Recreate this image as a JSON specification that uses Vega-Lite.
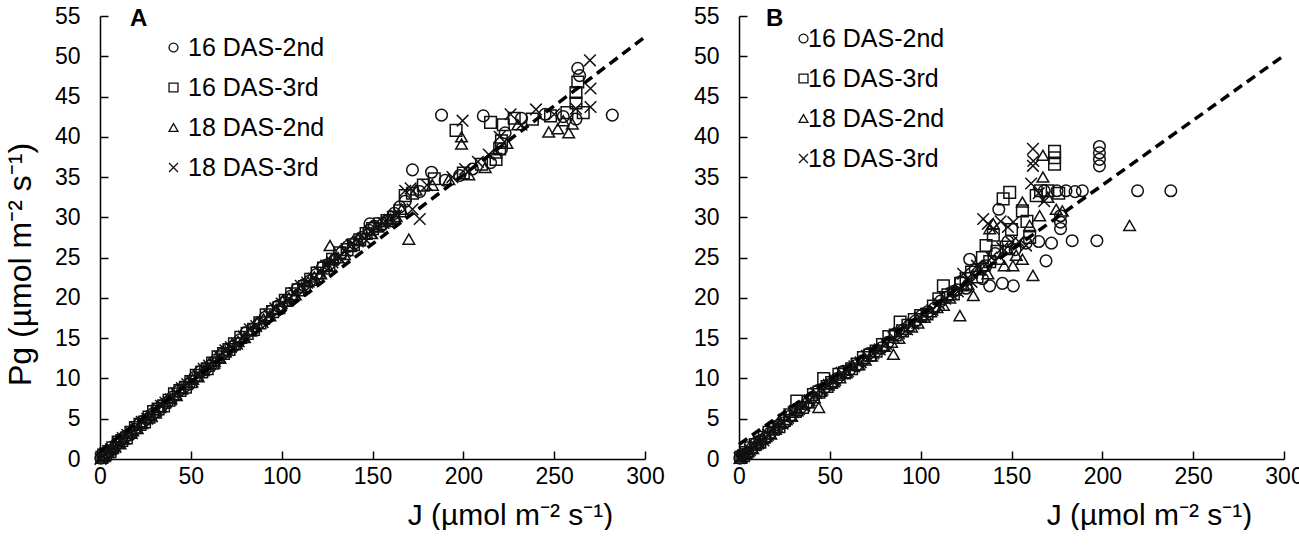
{
  "$schema": "https://vega.github.io/schema/vega-lite/v6.json",
  "background": "white",
  "padding": {"left": 4, "top": 5, "right": 0, "bottom": 0},
  "config": {
    "font": "Liberation Sans",
    "view": {"stroke": null},
    "concat": {"spacing": 28},
    "axis": {
      "grid": false,
      "domainColor": "#000",
      "domainWidth": 1.5,
      "tickColor": "#000",
      "tickWidth": 1.5,
      "tickSize": -8,
      "labelColor": "#000",
      "labelFontSize": 23,
      "labelFlush": false,
      "labelOverlap": false,
      "titleColor": "#000",
      "titleFontWeight": "normal"
    },
    "legend": {
      "labelFontSize": 25,
      "labelColor": "#000",
      "symbolSize": 80,
      "symbolStrokeColor": "#111",
      "symbolStrokeWidth": 1.3,
      "rowPadding": 14,
      "titleFontSize": 24,
      "titleFontWeight": "bold",
      "titleColor": "#000"
    }
  },
  "datasets": {
    "fit": [
      {"p": "A", "J": 0, "Pg": 1.0},
      {"p": "A", "J": 300, "Pg": 52.4},
      {"p": "B", "J": 0, "Pg": 1.8},
      {"p": "B", "J": 300, "Pg": 50.1}
    ],
    "pts": [
      {"p":"A","s":"16 DAS-2nd","J":0.5,"Pg":0.1},{"p":"A","s":"16 DAS-2nd","J":2,"Pg":0.4},{"p":"A","s":"16 DAS-2nd","J":5,"Pg":1.0},{"p":"A","s":"16 DAS-2nd","J":9,"Pg":1.8},{"p":"A","s":"16 DAS-2nd","J":14,"Pg":2.8},{"p":"A","s":"16 DAS-2nd","J":19,"Pg":3.7},{"p":"A","s":"16 DAS-2nd","J":24,"Pg":4.7},{"p":"A","s":"16 DAS-2nd","J":29,"Pg":5.6},{"p":"A","s":"16 DAS-2nd","J":34,"Pg":6.6},{"p":"A","s":"16 DAS-2nd","J":40,"Pg":7.7},{"p":"A","s":"16 DAS-2nd","J":46,"Pg":8.9},{"p":"A","s":"16 DAS-2nd","J":52,"Pg":10.1},{"p":"A","s":"16 DAS-2nd","J":58,"Pg":11.2},{"p":"A","s":"16 DAS-2nd","J":64,"Pg":12.3},{"p":"A","s":"16 DAS-2nd","J":70,"Pg":13.5},{"p":"A","s":"16 DAS-2nd","J":77,"Pg":14.8},{"p":"A","s":"16 DAS-2nd","J":84,"Pg":16.1},{"p":"A","s":"16 DAS-2nd","J":91,"Pg":17.6},{"p":"A","s":"16 DAS-2nd","J":98,"Pg":19.0},{"p":"A","s":"16 DAS-2nd","J":105,"Pg":20.2},{"p":"A","s":"16 DAS-2nd","J":112,"Pg":21.6},{"p":"A","s":"16 DAS-2nd","J":119,"Pg":22.9},{"p":"A","s":"16 DAS-2nd","J":126,"Pg":24.2},{"p":"A","s":"16 DAS-2nd","J":133,"Pg":25.6},{"p":"A","s":"16 DAS-2nd","J":140,"Pg":26.8},{"p":"A","s":"16 DAS-2nd","J":148,"Pg":28.4},{"p":"A","s":"16 DAS-2nd","J":148.6,"Pg":29.2},{"p":"A","s":"16 DAS-2nd","J":155,"Pg":29.0},{"p":"A","s":"16 DAS-2nd","J":162,"Pg":30.5},{"p":"A","s":"16 DAS-2nd","J":168,"Pg":32.0},{"p":"A","s":"16 DAS-2nd","J":172,"Pg":35.9},{"p":"A","s":"16 DAS-2nd","J":176,"Pg":33.2},{"p":"A","s":"16 DAS-2nd","J":182.5,"Pg":35.6},{"p":"A","s":"16 DAS-2nd","J":190,"Pg":34.6},{"p":"A","s":"16 DAS-2nd","J":198,"Pg":35.2},{"p":"A","s":"16 DAS-2nd","J":205,"Pg":36.0},{"p":"A","s":"16 DAS-2nd","J":211,"Pg":42.6},{"p":"A","s":"16 DAS-2nd","J":188,"Pg":42.7},{"p":"A","s":"16 DAS-2nd","J":215,"Pg":36.8},{"p":"A","s":"16 DAS-2nd","J":221,"Pg":38.5},{"p":"A","s":"16 DAS-2nd","J":223,"Pg":40.5},{"p":"A","s":"16 DAS-2nd","J":232,"Pg":42.3},{"p":"A","s":"16 DAS-2nd","J":245,"Pg":42.8},{"p":"A","s":"16 DAS-2nd","J":255,"Pg":42.5},{"p":"A","s":"16 DAS-2nd","J":262,"Pg":42.2},{"p":"A","s":"16 DAS-2nd","J":263,"Pg":48.5},{"p":"A","s":"16 DAS-2nd","J":264,"Pg":47.6},{"p":"A","s":"16 DAS-2nd","J":282,"Pg":42.7},
      {"p":"A","s":"16 DAS-2nd","J":3.5,"Pg":0.8},{"p":"A","s":"16 DAS-2nd","J":7,"Pg":1.2},{"p":"A","s":"16 DAS-2nd","J":11.5,"Pg":2.4},{"p":"A","s":"16 DAS-2nd","J":16.5,"Pg":3.0},{"p":"A","s":"16 DAS-2nd","J":21.5,"Pg":4.3},{"p":"A","s":"16 DAS-2nd","J":26.5,"Pg":5.0},{"p":"A","s":"16 DAS-2nd","J":31.5,"Pg":6.2},{"p":"A","s":"16 DAS-2nd","J":37,"Pg":7.0},{"p":"A","s":"16 DAS-2nd","J":43,"Pg":8.4},{"p":"A","s":"16 DAS-2nd","J":49,"Pg":9.3},{"p":"A","s":"16 DAS-2nd","J":55,"Pg":10.8},{"p":"A","s":"16 DAS-2nd","J":61,"Pg":11.6},{"p":"A","s":"16 DAS-2nd","J":67,"Pg":13.0},{"p":"A","s":"16 DAS-2nd","J":73.5,"Pg":14.0},{"p":"A","s":"16 DAS-2nd","J":80.5,"Pg":15.7},{"p":"A","s":"16 DAS-2nd","J":87.5,"Pg":16.8},{"p":"A","s":"16 DAS-2nd","J":94.5,"Pg":18.4},{"p":"A","s":"16 DAS-2nd","J":101.5,"Pg":19.5},{"p":"A","s":"16 DAS-2nd","J":108.5,"Pg":21.1},{"p":"A","s":"16 DAS-2nd","J":115.5,"Pg":22.1},{"p":"A","s":"16 DAS-2nd","J":122.5,"Pg":23.8},{"p":"A","s":"16 DAS-2nd","J":129.5,"Pg":24.8},{"p":"A","s":"16 DAS-2nd","J":136.5,"Pg":26.4},{"p":"A","s":"16 DAS-2nd","J":144,"Pg":27.5},{"p":"A","s":"16 DAS-2nd","J":151,"Pg":28.9},{"p":"A","s":"16 DAS-2nd","J":158,"Pg":29.6},{"p":"A","s":"16 DAS-2nd","J":165,"Pg":31.3},
      {"p":"A","s":"16 DAS-3rd","J":1,"Pg":0.2},{"p":"A","s":"16 DAS-3rd","J":3,"Pg":0.6},{"p":"A","s":"16 DAS-3rd","J":7,"Pg":1.4},{"p":"A","s":"16 DAS-3rd","J":12,"Pg":2.3},{"p":"A","s":"16 DAS-3rd","J":17,"Pg":3.3},{"p":"A","s":"16 DAS-3rd","J":22,"Pg":4.3},{"p":"A","s":"16 DAS-3rd","J":27,"Pg":5.2},{"p":"A","s":"16 DAS-3rd","J":32,"Pg":6.2},{"p":"A","s":"16 DAS-3rd","J":38,"Pg":7.3},{"p":"A","s":"16 DAS-3rd","J":44,"Pg":8.5},{"p":"A","s":"16 DAS-3rd","J":50,"Pg":9.6},{"p":"A","s":"16 DAS-3rd","J":56,"Pg":10.8},{"p":"A","s":"16 DAS-3rd","J":62,"Pg":11.9},{"p":"A","s":"16 DAS-3rd","J":68,"Pg":13.1},{"p":"A","s":"16 DAS-3rd","J":74,"Pg":14.3},{"p":"A","s":"16 DAS-3rd","J":81,"Pg":15.6},{"p":"A","s":"16 DAS-3rd","J":88,"Pg":16.9},{"p":"A","s":"16 DAS-3rd","J":95,"Pg":18.3},{"p":"A","s":"16 DAS-3rd","J":102,"Pg":19.7},{"p":"A","s":"16 DAS-3rd","J":109,"Pg":21.0},{"p":"A","s":"16 DAS-3rd","J":116,"Pg":22.3},{"p":"A","s":"16 DAS-3rd","J":123,"Pg":23.7},{"p":"A","s":"16 DAS-3rd","J":128,"Pg":24.8},{"p":"A","s":"16 DAS-3rd","J":136,"Pg":26.0},{"p":"A","s":"16 DAS-3rd","J":143,"Pg":27.2},{"p":"A","s":"16 DAS-3rd","J":150,"Pg":28.6},{"p":"A","s":"16 DAS-3rd","J":158,"Pg":29.6},{"p":"A","s":"16 DAS-3rd","J":165,"Pg":30.8},{"p":"A","s":"16 DAS-3rd","J":168,"Pg":32.7},{"p":"A","s":"16 DAS-3rd","J":172,"Pg":33.0},{"p":"A","s":"16 DAS-3rd","J":178,"Pg":34.0},{"p":"A","s":"16 DAS-3rd","J":184,"Pg":34.8},{"p":"A","s":"16 DAS-3rd","J":196,"Pg":40.8},{"p":"A","s":"16 DAS-3rd","J":200,"Pg":35.5},{"p":"A","s":"16 DAS-3rd","J":210,"Pg":36.6},{"p":"A","s":"16 DAS-3rd","J":218,"Pg":37.2},{"p":"A","s":"16 DAS-3rd","J":220,"Pg":38.5},{"p":"A","s":"16 DAS-3rd","J":221,"Pg":39.5},{"p":"A","s":"16 DAS-3rd","J":222,"Pg":41.5},{"p":"A","s":"16 DAS-3rd","J":215,"Pg":41.8},{"p":"A","s":"16 DAS-3rd","J":228,"Pg":42.3},{"p":"A","s":"16 DAS-3rd","J":238,"Pg":42.2},{"p":"A","s":"16 DAS-3rd","J":248,"Pg":42.6},{"p":"A","s":"16 DAS-3rd","J":257,"Pg":43.0},{"p":"A","s":"16 DAS-3rd","J":262,"Pg":44.2},{"p":"A","s":"16 DAS-3rd","J":262,"Pg":45.5},{"p":"A","s":"16 DAS-3rd","J":263,"Pg":46.8},{"p":"A","s":"16 DAS-3rd","J":266,"Pg":43.0},
      {"p":"A","s":"16 DAS-3rd","J":2,"Pg":0.5},{"p":"A","s":"16 DAS-3rd","J":5.5,"Pg":0.9},{"p":"A","s":"16 DAS-3rd","J":10,"Pg":2.1},{"p":"A","s":"16 DAS-3rd","J":14.5,"Pg":2.6},{"p":"A","s":"16 DAS-3rd","J":19.5,"Pg":3.9},{"p":"A","s":"16 DAS-3rd","J":24.5,"Pg":4.6},{"p":"A","s":"16 DAS-3rd","J":29.5,"Pg":5.9},{"p":"A","s":"16 DAS-3rd","J":35,"Pg":6.6},{"p":"A","s":"16 DAS-3rd","J":41,"Pg":8.1},{"p":"A","s":"16 DAS-3rd","J":47,"Pg":8.9},{"p":"A","s":"16 DAS-3rd","J":53,"Pg":10.4},{"p":"A","s":"16 DAS-3rd","J":59,"Pg":11.2},{"p":"A","s":"16 DAS-3rd","J":65,"Pg":12.7},{"p":"A","s":"16 DAS-3rd","J":71,"Pg":13.6},{"p":"A","s":"16 DAS-3rd","J":77.5,"Pg":15.1},{"p":"A","s":"16 DAS-3rd","J":84.5,"Pg":16.1},{"p":"A","s":"16 DAS-3rd","J":91.5,"Pg":17.9},{"p":"A","s":"16 DAS-3rd","J":98.5,"Pg":18.8},{"p":"A","s":"16 DAS-3rd","J":105.5,"Pg":20.5},{"p":"A","s":"16 DAS-3rd","J":112.5,"Pg":21.4},{"p":"A","s":"16 DAS-3rd","J":119.5,"Pg":23.1},{"p":"A","s":"16 DAS-3rd","J":126,"Pg":24.0},{"p":"A","s":"16 DAS-3rd","J":132,"Pg":25.6},{"p":"A","s":"16 DAS-3rd","J":139.5,"Pg":26.6},{"p":"A","s":"16 DAS-3rd","J":146.5,"Pg":28.0},{"p":"A","s":"16 DAS-3rd","J":154,"Pg":29.2},{"p":"A","s":"16 DAS-3rd","J":161.5,"Pg":30.0},
      {"p":"A","s":"18 DAS-2nd","J":0.8,"Pg":0.1},{"p":"A","s":"18 DAS-2nd","J":4,"Pg":0.8},{"p":"A","s":"18 DAS-2nd","J":8,"Pg":1.6},{"p":"A","s":"18 DAS-2nd","J":13,"Pg":2.5},{"p":"A","s":"18 DAS-2nd","J":18,"Pg":3.5},{"p":"A","s":"18 DAS-2nd","J":23,"Pg":4.4},{"p":"A","s":"18 DAS-2nd","J":28,"Pg":5.4},{"p":"A","s":"18 DAS-2nd","J":33,"Pg":6.4},{"p":"A","s":"18 DAS-2nd","J":39,"Pg":7.5},{"p":"A","s":"18 DAS-2nd","J":45,"Pg":8.7},{"p":"A","s":"18 DAS-2nd","J":51,"Pg":9.9},{"p":"A","s":"18 DAS-2nd","J":57,"Pg":11.0},{"p":"A","s":"18 DAS-2nd","J":63,"Pg":12.1},{"p":"A","s":"18 DAS-2nd","J":69,"Pg":13.3},{"p":"A","s":"18 DAS-2nd","J":76,"Pg":14.6},{"p":"A","s":"18 DAS-2nd","J":83,"Pg":15.9},{"p":"A","s":"18 DAS-2nd","J":90,"Pg":17.4},{"p":"A","s":"18 DAS-2nd","J":97,"Pg":18.6},{"p":"A","s":"18 DAS-2nd","J":104,"Pg":20.0},{"p":"A","s":"18 DAS-2nd","J":111,"Pg":21.3},{"p":"A","s":"18 DAS-2nd","J":118,"Pg":22.6},{"p":"A","s":"18 DAS-2nd","J":125,"Pg":24.0},{"p":"A","s":"18 DAS-2nd","J":126.6,"Pg":26.5},{"p":"A","s":"18 DAS-2nd","J":131,"Pg":25.0},{"p":"A","s":"18 DAS-2nd","J":138,"Pg":26.4},{"p":"A","s":"18 DAS-2nd","J":146,"Pg":27.9},{"p":"A","s":"18 DAS-2nd","J":153,"Pg":28.8},{"p":"A","s":"18 DAS-2nd","J":160,"Pg":29.8},{"p":"A","s":"18 DAS-2nd","J":166,"Pg":31.0},{"p":"A","s":"18 DAS-2nd","J":170,"Pg":27.3},{"p":"A","s":"18 DAS-2nd","J":174,"Pg":33.4},{"p":"A","s":"18 DAS-2nd","J":183,"Pg":34.0},{"p":"A","s":"18 DAS-2nd","J":192,"Pg":34.7},{"p":"A","s":"18 DAS-2nd","J":199,"Pg":39.1},{"p":"A","s":"18 DAS-2nd","J":199,"Pg":40.0},{"p":"A","s":"18 DAS-2nd","J":203,"Pg":35.3},{"p":"A","s":"18 DAS-2nd","J":212,"Pg":36.2},{"p":"A","s":"18 DAS-2nd","J":218,"Pg":38.0},{"p":"A","s":"18 DAS-2nd","J":224,"Pg":39.2},{"p":"A","s":"18 DAS-2nd","J":230,"Pg":41.5},{"p":"A","s":"18 DAS-2nd","J":247,"Pg":40.6},{"p":"A","s":"18 DAS-2nd","J":252,"Pg":41.0},{"p":"A","s":"18 DAS-2nd","J":258,"Pg":40.5},{"p":"A","s":"18 DAS-2nd","J":260,"Pg":41.6},{"p":"A","s":"18 DAS-2nd","J":255,"Pg":42.0},
      {"p":"A","s":"18 DAS-2nd","J":2.5,"Pg":0.3},{"p":"A","s":"18 DAS-2nd","J":6.5,"Pg":1.4},{"p":"A","s":"18 DAS-2nd","J":11,"Pg":1.9},{"p":"A","s":"18 DAS-2nd","J":15.5,"Pg":3.2},{"p":"A","s":"18 DAS-2nd","J":20.5,"Pg":3.8},{"p":"A","s":"18 DAS-2nd","J":25.5,"Pg":5.1},{"p":"A","s":"18 DAS-2nd","J":30.5,"Pg":5.7},{"p":"A","s":"18 DAS-2nd","J":36,"Pg":7.1},{"p":"A","s":"18 DAS-2nd","J":42,"Pg":7.9},{"p":"A","s":"18 DAS-2nd","J":48,"Pg":9.5},{"p":"A","s":"18 DAS-2nd","J":54,"Pg":10.2},{"p":"A","s":"18 DAS-2nd","J":60,"Pg":11.8},{"p":"A","s":"18 DAS-2nd","J":66,"Pg":12.5},{"p":"A","s":"18 DAS-2nd","J":72.5,"Pg":14.2},{"p":"A","s":"18 DAS-2nd","J":79.5,"Pg":15.1},{"p":"A","s":"18 DAS-2nd","J":86.5,"Pg":16.9},{"p":"A","s":"18 DAS-2nd","J":93.5,"Pg":17.8},{"p":"A","s":"18 DAS-2nd","J":100.5,"Pg":19.6},{"p":"A","s":"18 DAS-2nd","J":107.5,"Pg":20.4},{"p":"A","s":"18 DAS-2nd","J":114.5,"Pg":22.0},{"p":"A","s":"18 DAS-2nd","J":121.5,"Pg":23.0},{"p":"A","s":"18 DAS-2nd","J":128.5,"Pg":24.9},{"p":"A","s":"18 DAS-2nd","J":134.5,"Pg":25.4},{"p":"A","s":"18 DAS-2nd","J":142,"Pg":27.3},{"p":"A","s":"18 DAS-2nd","J":149.5,"Pg":28.0},{"p":"A","s":"18 DAS-2nd","J":156.5,"Pg":29.5},{"p":"A","s":"18 DAS-2nd","J":163,"Pg":30.1},
      {"p":"A","s":"18 DAS-3rd","J":1.5,"Pg":0.3},{"p":"A","s":"18 DAS-3rd","J":6,"Pg":1.2},{"p":"A","s":"18 DAS-3rd","J":10,"Pg":2.0},{"p":"A","s":"18 DAS-3rd","J":15,"Pg":3.0},{"p":"A","s":"18 DAS-3rd","J":20,"Pg":3.9},{"p":"A","s":"18 DAS-3rd","J":26,"Pg":5.0},{"p":"A","s":"18 DAS-3rd","J":31,"Pg":6.0},{"p":"A","s":"18 DAS-3rd","J":36,"Pg":7.0},{"p":"A","s":"18 DAS-3rd","J":42,"Pg":8.1},{"p":"A","s":"18 DAS-3rd","J":48,"Pg":9.3},{"p":"A","s":"18 DAS-3rd","J":54,"Pg":10.4},{"p":"A","s":"18 DAS-3rd","J":60,"Pg":11.6},{"p":"A","s":"18 DAS-3rd","J":66,"Pg":12.7},{"p":"A","s":"18 DAS-3rd","J":72,"Pg":13.9},{"p":"A","s":"18 DAS-3rd","J":79,"Pg":15.2},{"p":"A","s":"18 DAS-3rd","J":86,"Pg":16.5},{"p":"A","s":"18 DAS-3rd","J":93,"Pg":17.9},{"p":"A","s":"18 DAS-3rd","J":100,"Pg":19.3},{"p":"A","s":"18 DAS-3rd","J":107,"Pg":20.6},{"p":"A","s":"18 DAS-3rd","J":114,"Pg":21.9},{"p":"A","s":"18 DAS-3rd","J":121,"Pg":23.2},{"p":"A","s":"18 DAS-3rd","J":128,"Pg":24.4},{"p":"A","s":"18 DAS-3rd","J":135,"Pg":25.8},{"p":"A","s":"18 DAS-3rd","J":142,"Pg":27.0},{"p":"A","s":"18 DAS-3rd","J":149,"Pg":28.2},{"p":"A","s":"18 DAS-3rd","J":156,"Pg":29.3},{"p":"A","s":"18 DAS-3rd","J":163,"Pg":30.2},{"p":"A","s":"18 DAS-3rd","J":168,"Pg":33.3},{"p":"A","s":"18 DAS-3rd","J":171,"Pg":33.6},{"p":"A","s":"18 DAS-3rd","J":172,"Pg":31.0},{"p":"A","s":"18 DAS-3rd","J":176,"Pg":29.8},{"p":"A","s":"18 DAS-3rd","J":180,"Pg":34.0},{"p":"A","s":"18 DAS-3rd","J":194,"Pg":35.0},{"p":"A","s":"18 DAS-3rd","J":199.6,"Pg":42.0},{"p":"A","s":"18 DAS-3rd","J":201,"Pg":36.0},{"p":"A","s":"18 DAS-3rd","J":208,"Pg":36.9},{"p":"A","s":"18 DAS-3rd","J":214,"Pg":37.8},{"p":"A","s":"18 DAS-3rd","J":220,"Pg":40.0},{"p":"A","s":"18 DAS-3rd","J":226,"Pg":42.8},{"p":"A","s":"18 DAS-3rd","J":232,"Pg":41.5},{"p":"A","s":"18 DAS-3rd","J":240,"Pg":43.4},{"p":"A","s":"18 DAS-3rd","J":250,"Pg":42.8},{"p":"A","s":"18 DAS-3rd","J":262,"Pg":43.5},{"p":"A","s":"18 DAS-3rd","J":269.7,"Pg":49.5},{"p":"A","s":"18 DAS-3rd","J":270,"Pg":46.0},{"p":"A","s":"18 DAS-3rd","J":270,"Pg":43.7},
      {"p":"A","s":"18 DAS-3rd","J":0.3,"Pg":0.0},{"p":"A","s":"18 DAS-3rd","J":4.5,"Pg":1.0},{"p":"A","s":"18 DAS-3rd","J":8.5,"Pg":1.5},{"p":"A","s":"18 DAS-3rd","J":12.5,"Pg":2.6},{"p":"A","s":"18 DAS-3rd","J":17.5,"Pg":3.2},{"p":"A","s":"18 DAS-3rd","J":23,"Pg":4.6},{"p":"A","s":"18 DAS-3rd","J":28.5,"Pg":5.3},{"p":"A","s":"18 DAS-3rd","J":33.5,"Pg":6.6},{"p":"A","s":"18 DAS-3rd","J":39,"Pg":7.4},{"p":"A","s":"18 DAS-3rd","J":45,"Pg":8.8},{"p":"A","s":"18 DAS-3rd","J":51,"Pg":9.6},{"p":"A","s":"18 DAS-3rd","J":57,"Pg":11.2},{"p":"A","s":"18 DAS-3rd","J":63,"Pg":11.9},{"p":"A","s":"18 DAS-3rd","J":69,"Pg":13.5},{"p":"A","s":"18 DAS-3rd","J":75.5,"Pg":14.3},{"p":"A","s":"18 DAS-3rd","J":82.5,"Pg":16.1},{"p":"A","s":"18 DAS-3rd","J":89.5,"Pg":17.0},{"p":"A","s":"18 DAS-3rd","J":96.5,"Pg":18.7},{"p":"A","s":"18 DAS-3rd","J":103.5,"Pg":19.7},{"p":"A","s":"18 DAS-3rd","J":110.5,"Pg":21.5},{"p":"A","s":"18 DAS-3rd","J":117.5,"Pg":22.4},{"p":"A","s":"18 DAS-3rd","J":124.5,"Pg":24.0},{"p":"A","s":"18 DAS-3rd","J":131.5,"Pg":25.0},{"p":"A","s":"18 DAS-3rd","J":138.5,"Pg":26.6},{"p":"A","s":"18 DAS-3rd","J":145.5,"Pg":27.4},{"p":"A","s":"18 DAS-3rd","J":152.5,"Pg":28.9},{"p":"A","s":"18 DAS-3rd","J":159.5,"Pg":29.7},
      {"p":"B","s":"16 DAS-2nd","J":0.5,"Pg":0.1},{"p":"B","s":"16 DAS-2nd","J":3,"Pg":0.6},{"p":"B","s":"16 DAS-2nd","J":7,"Pg":1.3},{"p":"B","s":"16 DAS-2nd","J":12,"Pg":2.3},{"p":"B","s":"16 DAS-2nd","J":17,"Pg":3.2},{"p":"B","s":"16 DAS-2nd","J":22,"Pg":4.2},{"p":"B","s":"16 DAS-2nd","J":28,"Pg":5.3},{"p":"B","s":"16 DAS-2nd","J":34,"Pg":6.4},{"p":"B","s":"16 DAS-2nd","J":40,"Pg":7.6},{"p":"B","s":"16 DAS-2nd","J":47,"Pg":8.8},{"p":"B","s":"16 DAS-2nd","J":54,"Pg":10.0},{"p":"B","s":"16 DAS-2nd","J":61,"Pg":11.1},{"p":"B","s":"16 DAS-2nd","J":68,"Pg":12.2},{"p":"B","s":"16 DAS-2nd","J":75,"Pg":13.3},{"p":"B","s":"16 DAS-2nd","J":82,"Pg":14.5},{"p":"B","s":"16 DAS-2nd","J":90,"Pg":15.9},{"p":"B","s":"16 DAS-2nd","J":97,"Pg":17.1},{"p":"B","s":"16 DAS-2nd","J":104,"Pg":18.3},{"p":"B","s":"16 DAS-2nd","J":111,"Pg":19.6},{"p":"B","s":"16 DAS-2nd","J":118,"Pg":20.8},{"p":"B","s":"16 DAS-2nd","J":122,"Pg":22.0},{"p":"B","s":"16 DAS-2nd","J":127,"Pg":24.8},{"p":"B","s":"16 DAS-2nd","J":130,"Pg":23.5},{"p":"B","s":"16 DAS-2nd","J":134,"Pg":22.4},{"p":"B","s":"16 DAS-2nd","J":138,"Pg":21.5},{"p":"B","s":"16 DAS-2nd","J":145,"Pg":21.8},{"p":"B","s":"16 DAS-2nd","J":151,"Pg":21.5},{"p":"B","s":"16 DAS-2nd","J":143,"Pg":31.0},{"p":"B","s":"16 DAS-2nd","J":148,"Pg":27.0},{"p":"B","s":"16 DAS-2nd","J":152,"Pg":26.0},{"p":"B","s":"16 DAS-2nd","J":158,"Pg":26.8},{"p":"B","s":"16 DAS-2nd","J":165,"Pg":27.0},{"p":"B","s":"16 DAS-2nd","J":169,"Pg":24.6},{"p":"B","s":"16 DAS-2nd","J":172,"Pg":26.8},{"p":"B","s":"16 DAS-2nd","J":177,"Pg":28.6},{"p":"B","s":"16 DAS-2nd","J":177,"Pg":29.4},{"p":"B","s":"16 DAS-2nd","J":177,"Pg":30.2},{"p":"B","s":"16 DAS-2nd","J":168,"Pg":33.3},{"p":"B","s":"16 DAS-2nd","J":175,"Pg":33.3},{"p":"B","s":"16 DAS-2nd","J":180,"Pg":33.3},{"p":"B","s":"16 DAS-2nd","J":185,"Pg":33.2},{"p":"B","s":"16 DAS-2nd","J":189,"Pg":33.3},{"p":"B","s":"16 DAS-2nd","J":183.4,"Pg":27.1},{"p":"B","s":"16 DAS-2nd","J":197,"Pg":27.1},{"p":"B","s":"16 DAS-2nd","J":198.4,"Pg":36.4},{"p":"B","s":"16 DAS-2nd","J":198.4,"Pg":37.2},{"p":"B","s":"16 DAS-2nd","J":198.4,"Pg":38.0},{"p":"B","s":"16 DAS-2nd","J":198.4,"Pg":38.8},{"p":"B","s":"16 DAS-2nd","J":219.4,"Pg":33.3},{"p":"B","s":"16 DAS-2nd","J":237.7,"Pg":33.3},
      {"p":"B","s":"16 DAS-2nd","J":1.8,"Pg":0.5},{"p":"B","s":"16 DAS-2nd","J":5,"Pg":0.8},{"p":"B","s":"16 DAS-2nd","J":9.5,"Pg":2.0},{"p":"B","s":"16 DAS-2nd","J":14.5,"Pg":2.6},{"p":"B","s":"16 DAS-2nd","J":19.5,"Pg":3.9},{"p":"B","s":"16 DAS-2nd","J":25,"Pg":4.5},{"p":"B","s":"16 DAS-2nd","J":31,"Pg":6.1},{"p":"B","s":"16 DAS-2nd","J":37,"Pg":6.8},{"p":"B","s":"16 DAS-2nd","J":43.5,"Pg":8.5},{"p":"B","s":"16 DAS-2nd","J":50.5,"Pg":9.3},{"p":"B","s":"16 DAS-2nd","J":57.5,"Pg":10.9},{"p":"B","s":"16 DAS-2nd","J":64.5,"Pg":11.6},{"p":"B","s":"16 DAS-2nd","J":71.5,"Pg":13.1},{"p":"B","s":"16 DAS-2nd","J":78.5,"Pg":13.8},{"p":"B","s":"16 DAS-2nd","J":86,"Pg":15.5},{"p":"B","s":"16 DAS-2nd","J":93.5,"Pg":16.5},{"p":"B","s":"16 DAS-2nd","J":100.5,"Pg":17.8},{"p":"B","s":"16 DAS-2nd","J":107.5,"Pg":18.7},{"p":"B","s":"16 DAS-2nd","J":114.5,"Pg":20.1},{"p":"B","s":"16 DAS-2nd","J":120,"Pg":21.0},{"p":"B","s":"16 DAS-2nd","J":125,"Pg":21.2},{"p":"B","s":"16 DAS-2nd","J":136,"Pg":24.0},{"p":"B","s":"16 DAS-2nd","J":141,"Pg":25.5},
      {"p":"B","s":"16 DAS-3rd","J":1,"Pg":0.2},{"p":"B","s":"16 DAS-3rd","J":4,"Pg":0.8},{"p":"B","s":"16 DAS-3rd","J":9,"Pg":1.8},{"p":"B","s":"16 DAS-3rd","J":14,"Pg":2.7},{"p":"B","s":"16 DAS-3rd","J":19,"Pg":3.7},{"p":"B","s":"16 DAS-3rd","J":25,"Pg":4.8},{"p":"B","s":"16 DAS-3rd","J":31.8,"Pg":7.2},{"p":"B","s":"16 DAS-3rd","J":31,"Pg":5.9},{"p":"B","s":"16 DAS-3rd","J":38,"Pg":7.1},{"p":"B","s":"16 DAS-3rd","J":44,"Pg":8.3},{"p":"B","s":"16 DAS-3rd","J":46.6,"Pg":10.0},{"p":"B","s":"16 DAS-3rd","J":51,"Pg":9.5},{"p":"B","s":"16 DAS-3rd","J":58,"Pg":10.7},{"p":"B","s":"16 DAS-3rd","J":65,"Pg":11.8},{"p":"B","s":"16 DAS-3rd","J":72,"Pg":12.9},{"p":"B","s":"16 DAS-3rd","J":79,"Pg":14.2},{"p":"B","s":"16 DAS-3rd","J":86,"Pg":15.4},{"p":"B","s":"16 DAS-3rd","J":88.7,"Pg":17.0},{"p":"B","s":"16 DAS-3rd","J":93,"Pg":16.6},{"p":"B","s":"16 DAS-3rd","J":100,"Pg":17.8},{"p":"B","s":"16 DAS-3rd","J":107,"Pg":19.0},{"p":"B","s":"16 DAS-3rd","J":112.5,"Pg":21.5},{"p":"B","s":"16 DAS-3rd","J":115,"Pg":20.4},{"p":"B","s":"16 DAS-3rd","J":122,"Pg":21.8},{"p":"B","s":"16 DAS-3rd","J":128,"Pg":23.2},{"p":"B","s":"16 DAS-3rd","J":134,"Pg":25.0},{"p":"B","s":"16 DAS-3rd","J":136,"Pg":26.5},{"p":"B","s":"16 DAS-3rd","J":140,"Pg":27.8},{"p":"B","s":"16 DAS-3rd","J":145.4,"Pg":32.3},{"p":"B","s":"16 DAS-3rd","J":149,"Pg":33.1},{"p":"B","s":"16 DAS-3rd","J":150,"Pg":28.5},{"p":"B","s":"16 DAS-3rd","J":156,"Pg":30.8},{"p":"B","s":"16 DAS-3rd","J":158.5,"Pg":29.5},{"p":"B","s":"16 DAS-3rd","J":160,"Pg":27.5},{"p":"B","s":"16 DAS-3rd","J":163.6,"Pg":32.7},{"p":"B","s":"16 DAS-3rd","J":166,"Pg":33.3},{"p":"B","s":"16 DAS-3rd","J":170,"Pg":33.3},{"p":"B","s":"16 DAS-3rd","J":173.7,"Pg":36.6},{"p":"B","s":"16 DAS-3rd","J":173.7,"Pg":37.4},{"p":"B","s":"16 DAS-3rd","J":173.7,"Pg":38.2},{"p":"B","s":"16 DAS-3rd","J":176,"Pg":33.0},
      {"p":"B","s":"16 DAS-3rd","J":2.5,"Pg":0.4},{"p":"B","s":"16 DAS-3rd","J":6.5,"Pg":1.4},{"p":"B","s":"16 DAS-3rd","J":11.5,"Pg":2.1},{"p":"B","s":"16 DAS-3rd","J":16.5,"Pg":3.3},{"p":"B","s":"16 DAS-3rd","J":22,"Pg":4.0},{"p":"B","s":"16 DAS-3rd","J":28,"Pg":5.5},{"p":"B","s":"16 DAS-3rd","J":35,"Pg":6.4},{"p":"B","s":"16 DAS-3rd","J":41,"Pg":8.0},{"p":"B","s":"16 DAS-3rd","J":48.5,"Pg":9.0},{"p":"B","s":"16 DAS-3rd","J":55,"Pg":10.5},{"p":"B","s":"16 DAS-3rd","J":62,"Pg":11.2},{"p":"B","s":"16 DAS-3rd","J":68.5,"Pg":12.6},{"p":"B","s":"16 DAS-3rd","J":75.5,"Pg":13.4},{"p":"B","s":"16 DAS-3rd","J":82.5,"Pg":15.2},{"p":"B","s":"16 DAS-3rd","J":90,"Pg":15.9},{"p":"B","s":"16 DAS-3rd","J":96.5,"Pg":17.3},{"p":"B","s":"16 DAS-3rd","J":103.5,"Pg":18.0},{"p":"B","s":"16 DAS-3rd","J":110,"Pg":19.9},{"p":"B","s":"16 DAS-3rd","J":118,"Pg":20.5},{"p":"B","s":"16 DAS-3rd","J":125,"Pg":22.4},{"p":"B","s":"16 DAS-3rd","J":131,"Pg":22.6},{"p":"B","s":"16 DAS-3rd","J":138,"Pg":24.5},{"p":"B","s":"16 DAS-3rd","J":142,"Pg":25.8},{"p":"B","s":"16 DAS-3rd","J":147,"Pg":26.3},
      {"p":"B","s":"18 DAS-2nd","J":0.8,"Pg":0.1},{"p":"B","s":"18 DAS-2nd","J":5,"Pg":0.9},{"p":"B","s":"18 DAS-2nd","J":10,"Pg":1.9},{"p":"B","s":"18 DAS-2nd","J":15,"Pg":2.8},{"p":"B","s":"18 DAS-2nd","J":20,"Pg":3.7},{"p":"B","s":"18 DAS-2nd","J":26,"Pg":4.9},{"p":"B","s":"18 DAS-2nd","J":32,"Pg":6.0},{"p":"B","s":"18 DAS-2nd","J":38,"Pg":7.0},{"p":"B","s":"18 DAS-2nd","J":43.9,"Pg":6.4},{"p":"B","s":"18 DAS-2nd","J":45,"Pg":8.4},{"p":"B","s":"18 DAS-2nd","J":52,"Pg":9.6},{"p":"B","s":"18 DAS-2nd","J":59,"Pg":10.7},{"p":"B","s":"18 DAS-2nd","J":66,"Pg":11.7},{"p":"B","s":"18 DAS-2nd","J":73,"Pg":12.8},{"p":"B","s":"18 DAS-2nd","J":80,"Pg":14.0},{"p":"B","s":"18 DAS-2nd","J":85,"Pg":13.0},{"p":"B","s":"18 DAS-2nd","J":88,"Pg":15.0},{"p":"B","s":"18 DAS-2nd","J":95,"Pg":16.4},{"p":"B","s":"18 DAS-2nd","J":102,"Pg":17.6},{"p":"B","s":"18 DAS-2nd","J":109,"Pg":18.8},{"p":"B","s":"18 DAS-2nd","J":116,"Pg":20.0},{"p":"B","s":"18 DAS-2nd","J":121.6,"Pg":17.8},{"p":"B","s":"18 DAS-2nd","J":124,"Pg":21.5},{"p":"B","s":"18 DAS-2nd","J":129,"Pg":20.3},{"p":"B","s":"18 DAS-2nd","J":132,"Pg":23.5},{"p":"B","s":"18 DAS-2nd","J":138,"Pg":28.6},{"p":"B","s":"18 DAS-2nd","J":140,"Pg":29.2},{"p":"B","s":"18 DAS-2nd","J":143.5,"Pg":24.8},{"p":"B","s":"18 DAS-2nd","J":146,"Pg":24.0},{"p":"B","s":"18 DAS-2nd","J":150.8,"Pg":24.0},{"p":"B","s":"18 DAS-2nd","J":152.6,"Pg":25.3},{"p":"B","s":"18 DAS-2nd","J":156,"Pg":24.8},{"p":"B","s":"18 DAS-2nd","J":156,"Pg":31.9},{"p":"B","s":"18 DAS-2nd","J":160,"Pg":29.0},{"p":"B","s":"18 DAS-2nd","J":161.8,"Pg":22.8},{"p":"B","s":"18 DAS-2nd","J":165.5,"Pg":30.2},{"p":"B","s":"18 DAS-2nd","J":167.3,"Pg":37.7},{"p":"B","s":"18 DAS-2nd","J":167.3,"Pg":35.0},{"p":"B","s":"18 DAS-2nd","J":170,"Pg":32.5},{"p":"B","s":"18 DAS-2nd","J":174.6,"Pg":31.0},{"p":"B","s":"18 DAS-2nd","J":178,"Pg":30.8},{"p":"B","s":"18 DAS-2nd","J":215,"Pg":29.0},
      {"p":"B","s":"18 DAS-2nd","J":3,"Pg":0.7},{"p":"B","s":"18 DAS-2nd","J":7.5,"Pg":1.3},{"p":"B","s":"18 DAS-2nd","J":12.5,"Pg":2.5},{"p":"B","s":"18 DAS-2nd","J":17.5,"Pg":3.1},{"p":"B","s":"18 DAS-2nd","J":23,"Pg":4.5},{"p":"B","s":"18 DAS-2nd","J":29,"Pg":5.3},{"p":"B","s":"18 DAS-2nd","J":35,"Pg":6.8},{"p":"B","s":"18 DAS-2nd","J":41.5,"Pg":7.6},{"p":"B","s":"18 DAS-2nd","J":48,"Pg":9.3},{"p":"B","s":"18 DAS-2nd","J":55.5,"Pg":10.1},{"p":"B","s":"18 DAS-2nd","J":62.5,"Pg":11.6},{"p":"B","s":"18 DAS-2nd","J":69.5,"Pg":12.3},{"p":"B","s":"18 DAS-2nd","J":76.5,"Pg":13.7},{"p":"B","s":"18 DAS-2nd","J":84,"Pg":14.5},{"p":"B","s":"18 DAS-2nd","J":91.5,"Pg":16.1},{"p":"B","s":"18 DAS-2nd","J":98.5,"Pg":16.9},{"p":"B","s":"18 DAS-2nd","J":105.5,"Pg":18.3},{"p":"B","s":"18 DAS-2nd","J":112.5,"Pg":19.1},{"p":"B","s":"18 DAS-2nd","J":119,"Pg":21.0},{"p":"B","s":"18 DAS-2nd","J":126,"Pg":21.7},{"p":"B","s":"18 DAS-2nd","J":135,"Pg":24.0},{"p":"B","s":"18 DAS-2nd","J":137,"Pg":23.0},{"p":"B","s":"18 DAS-2nd","J":148,"Pg":26.0},
      {"p":"B","s":"18 DAS-3rd","J":1.5,"Pg":0.3},{"p":"B","s":"18 DAS-3rd","J":6,"Pg":1.1},{"p":"B","s":"18 DAS-3rd","J":11,"Pg":2.1},{"p":"B","s":"18 DAS-3rd","J":16,"Pg":3.0},{"p":"B","s":"18 DAS-3rd","J":21,"Pg":4.0},{"p":"B","s":"18 DAS-3rd","J":27,"Pg":5.1},{"p":"B","s":"18 DAS-3rd","J":33,"Pg":6.2},{"p":"B","s":"18 DAS-3rd","J":39,"Pg":7.3},{"p":"B","s":"18 DAS-3rd","J":46,"Pg":8.6},{"p":"B","s":"18 DAS-3rd","J":53,"Pg":9.8},{"p":"B","s":"18 DAS-3rd","J":60,"Pg":10.9},{"p":"B","s":"18 DAS-3rd","J":67,"Pg":12.0},{"p":"B","s":"18 DAS-3rd","J":74,"Pg":13.1},{"p":"B","s":"18 DAS-3rd","J":81,"Pg":14.3},{"p":"B","s":"18 DAS-3rd","J":88,"Pg":15.6},{"p":"B","s":"18 DAS-3rd","J":96,"Pg":16.8},{"p":"B","s":"18 DAS-3rd","J":103,"Pg":18.0},{"p":"B","s":"18 DAS-3rd","J":110,"Pg":19.3},{"p":"B","s":"18 DAS-3rd","J":117,"Pg":20.5},{"p":"B","s":"18 DAS-3rd","J":123.4,"Pg":23.0},{"p":"B","s":"18 DAS-3rd","J":126,"Pg":22.5},{"p":"B","s":"18 DAS-3rd","J":131,"Pg":24.0},{"p":"B","s":"18 DAS-3rd","J":134.4,"Pg":29.8},{"p":"B","s":"18 DAS-3rd","J":137,"Pg":29.2},{"p":"B","s":"18 DAS-3rd","J":140,"Pg":28.6},{"p":"B","s":"18 DAS-3rd","J":144,"Pg":29.5},{"p":"B","s":"18 DAS-3rd","J":148,"Pg":28.8},{"p":"B","s":"18 DAS-3rd","J":151,"Pg":29.4},{"p":"B","s":"18 DAS-3rd","J":154,"Pg":27.0},{"p":"B","s":"18 DAS-3rd","J":158,"Pg":26.5},{"p":"B","s":"18 DAS-3rd","J":160.8,"Pg":34.2},{"p":"B","s":"18 DAS-3rd","J":161.8,"Pg":36.4},{"p":"B","s":"18 DAS-3rd","J":161.8,"Pg":38.5},{"p":"B","s":"18 DAS-3rd","J":162,"Pg":37.0},{"p":"B","s":"18 DAS-3rd","J":165,"Pg":33.0},{"p":"B","s":"18 DAS-3rd","J":168,"Pg":32.0},
      {"p":"B","s":"18 DAS-3rd","J":0.3,"Pg":0.1},{"p":"B","s":"18 DAS-3rd","J":3.5,"Pg":0.6},{"p":"B","s":"18 DAS-3rd","J":8.5,"Pg":1.7},{"p":"B","s":"18 DAS-3rd","J":13.5,"Pg":2.3},{"p":"B","s":"18 DAS-3rd","J":18.5,"Pg":3.7},{"p":"B","s":"18 DAS-3rd","J":24,"Pg":4.4},{"p":"B","s":"18 DAS-3rd","J":30,"Pg":5.8},{"p":"B","s":"18 DAS-3rd","J":36,"Pg":6.6},{"p":"B","s":"18 DAS-3rd","J":42.5,"Pg":8.2},{"p":"B","s":"18 DAS-3rd","J":49.5,"Pg":9.2},{"p":"B","s":"18 DAS-3rd","J":56.5,"Pg":10.7},{"p":"B","s":"18 DAS-3rd","J":63.5,"Pg":11.5},{"p":"B","s":"18 DAS-3rd","J":70.5,"Pg":12.8},{"p":"B","s":"18 DAS-3rd","J":77.5,"Pg":13.6},{"p":"B","s":"18 DAS-3rd","J":85,"Pg":15.1},{"p":"B","s":"18 DAS-3rd","J":92.5,"Pg":16.1},{"p":"B","s":"18 DAS-3rd","J":99.5,"Pg":17.6},{"p":"B","s":"18 DAS-3rd","J":106.5,"Pg":18.5},{"p":"B","s":"18 DAS-3rd","J":113.5,"Pg":19.9},{"p":"B","s":"18 DAS-3rd","J":120.5,"Pg":20.8},{"p":"B","s":"18 DAS-3rd","J":128,"Pg":22.0},{"p":"B","s":"18 DAS-3rd","J":133,"Pg":23.5},{"p":"B","s":"18 DAS-3rd","J":139,"Pg":25.0},{"p":"B","s":"18 DAS-3rd","J":145,"Pg":26.2},{"p":"B","s":"18 DAS-3rd","J":150,"Pg":26.9}
    ]
  },
  "resolve": {"scale": {"shape": "independent"}, "legend": {"shape": "independent"}},
  "hconcat": [
    {
      "width": 545,
      "height": 443,
      "layer": [
        {
          "data": {"name": "pts"},
          "transform": [{"filter": "datum.p === 'A'"}],
          "mark": {"type": "point", "filled": false, "color": "#111", "strokeWidth": 1.5, "size": 135, "opacity": 1},
          "encoding": {
            "x": {"field": "J", "type": "quantitative", "scale": {"domain": [0, 300], "nice": false},
              "axis": {"title": "J (µmol m⁻² s⁻¹)", "values": [0, 50, 100, 150, 200, 250, 300], "titleFontSize": 30, "titleX": 410, "titlePadding": 12, "labelPadding": 14}},
            "y": {"field": "Pg", "type": "quantitative", "scale": {"domain": [0, 55], "nice": false},
              "axis": {"title": "Pg (µmol m⁻² s⁻¹)", "values": [0, 5, 10, 15, 20, 25, 30, 35, 40, 45, 50, 55], "titleFontSize": 32, "titleX": -63, "titleY": 248, "labelPadding": 28}},
            "shape": {"field": "s", "type": "nominal",
              "scale": {"domain": ["16 DAS-2nd", "16 DAS-3rd", "18 DAS-2nd", "18 DAS-3rd"], "range": ["circle", "square", "triangle-up", "M-1,-1L1,1M-1,1L1,-1"]},
              "legend": {"title": "A", "orient": "none", "legendX": 30, "legendY": -9, "titlePadding": 4, "symbolOffset": 31, "labelOffset": 2}}
          }
        },
        {
          "data": {"name": "fit"},
          "transform": [{"filter": "datum.p === 'A'"}],
          "mark": {"type": "line", "color": "#000", "strokeWidth": 3.5, "strokeDash": [10, 6]},
          "encoding": {"x": {"field": "J", "type": "quantitative"}, "y": {"field": "Pg", "type": "quantitative"}}
        }
      ]
    },
    {
      "width": 545,
      "height": 443,
      "layer": [
        {
          "data": {"name": "pts"},
          "transform": [{"filter": "datum.p === 'B'"}],
          "mark": {"type": "point", "filled": false, "color": "#111", "strokeWidth": 1.5, "size": 135, "opacity": 1},
          "encoding": {
            "x": {"field": "J", "type": "quantitative", "scale": {"domain": [0, 300], "nice": false},
              "axis": {"title": "J (µmol m⁻² s⁻¹)", "values": [0, 50, 100, 150, 200, 250, 300], "titleFontSize": 30, "titleX": 410, "titlePadding": 12, "labelPadding": 14}},
            "y": {"field": "Pg", "type": "quantitative", "scale": {"domain": [0, 55], "nice": false},
              "axis": {"title": null, "values": [0, 5, 10, 15, 20, 25, 30, 35, 40, 45, 50, 55], "labelPadding": 28}},
            "shape": {"field": "s", "type": "nominal",
              "scale": {"domain": ["16 DAS-2nd", "16 DAS-3rd", "18 DAS-2nd", "18 DAS-3rd"], "range": ["circle", "square", "triangle-up", "M-1,-1L1,1M-1,1L1,-1"]},
              "legend": {"title": "B", "orient": "none", "legendX": 27, "legendY": -9, "titlePadding": -5, "symbolOffset": 25, "labelOffset": -8}}
          }
        },
        {
          "data": {"name": "fit"},
          "transform": [{"filter": "datum.p === 'B'"}],
          "mark": {"type": "line", "color": "#000", "strokeWidth": 3.5, "strokeDash": [10, 6]},
          "encoding": {"x": {"field": "J", "type": "quantitative"}, "y": {"field": "Pg", "type": "quantitative"}}
        }
      ]
    }
  ]
}
